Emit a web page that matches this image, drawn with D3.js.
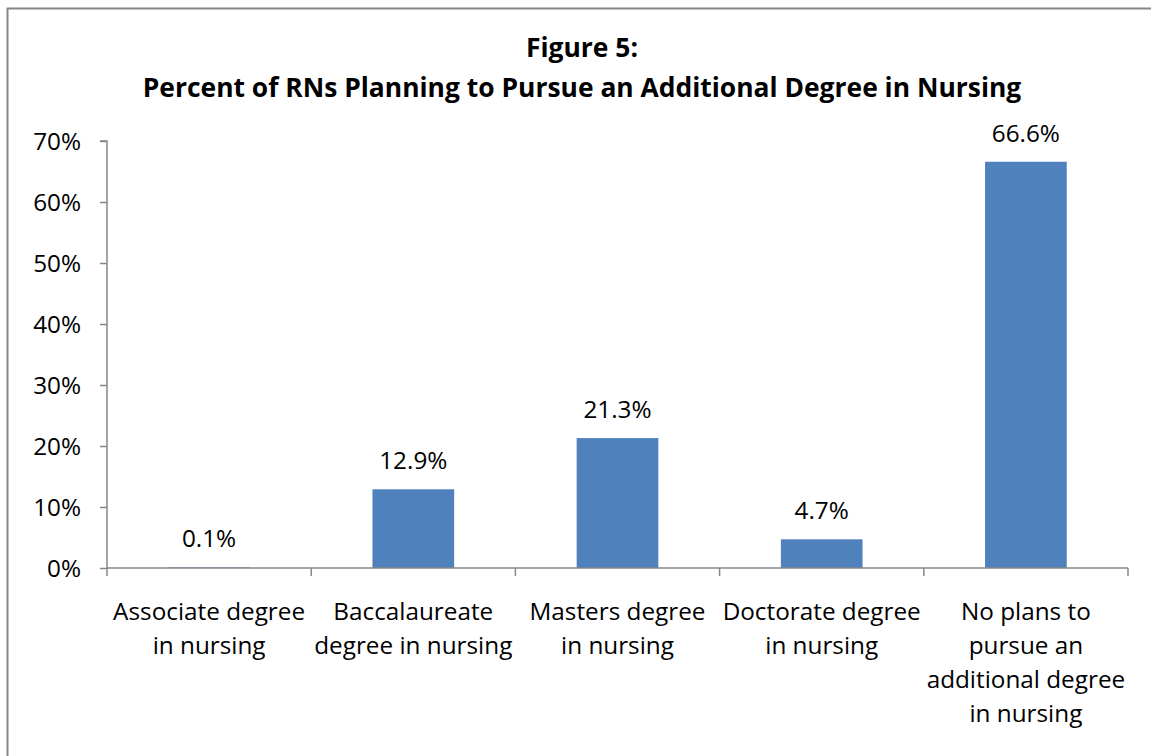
<!DOCTYPE html>
<html>
<head>
<meta charset="utf-8">
<script src="https://cdn.jsdelivr.net/npm/d3@7/dist/d3.min.js"></script>
<style>
  html, body { margin: 0; padding: 0; background: #fff; }
  svg { display: block; }
  text { font-family: "Open Sans", Lato, sans-serif; fill: #000; }
</style>
</head>
<body>
<svg id="chart" width="1151" height="756"></svg>
<script>
const titleLines = ["Figure 5:", "Percent of RNs Planning to Pursue an Additional Degree in Nursing"];
const categories = [
  "Associate degree in nursing",
  "Baccalaureate degree in nursing",
  "Masters degree in nursing",
  "Doctorate degree in nursing",
  "No plans to pursue an additional degree in nursing"
];
const categoryLines = [
  ["Associate degree", "in nursing"],
  ["Baccalaureate", "degree in nursing"],
  ["Masters degree", "in nursing"],
  ["Doctorate degree", "in nursing"],
  ["No plans to", "pursue an", "additional degree", "in nursing"]
];
const values = [0.1, 12.9, 21.3, 4.7, 66.6];
const yTicks = [0, 10, 20, 30, 40, 50, 60, 70];

const svg = d3.select("#chart");
const W = 1151, H = 756;

// outer frame (extends past right/bottom edges)
svg.append("rect").attr("x", 7.5).attr("y", 8.5).attr("width", W + 10).attr("height", H + 10)
  .attr("fill", "#fff").attr("stroke", "#878787").attr("stroke-width", 2);

const plot = { left: 107, right: 1128, top: 141, bottom: 568 };

const x = d3.scaleBand().domain(categories).range([plot.left, plot.right]).paddingInner(0.6).paddingOuter(0.3);
const xOuter = d3.scaleBand().domain(categories).range([plot.left, plot.right]);
const y = d3.scaleLinear().domain([0, 70]).range([plot.bottom, plot.top]);

// helper: measure and fit font size
function fitSize(str, weight, targetWidth) {
  const t = svg.append("text").attr("font-size", 100).attr("font-weight", weight).text(str);
  const w = t.node().getComputedTextLength();
  t.remove();
  return 100 * targetWidth / w;
}
const labelSize = fitSize("Associate degree", "normal", 192);
const titleSize = fitSize(titleLines[1], "bold", 879);

// title
const cx = 582;
svg.append("text").attr("x", cx).attr("y", 57).attr("text-anchor", "middle")
  .attr("font-weight", "bold").attr("font-size", titleSize).text(titleLines[0]);
svg.append("text").attr("x", cx).attr("y", 97).attr("text-anchor", "middle")
  .attr("font-weight", "bold").attr("font-size", titleSize).text(titleLines[1]);

// bars
svg.append("g").selectAll("rect").data(values).join("rect")
  .attr("x", (d, i) => x(categories[i]))
  .attr("width", x.bandwidth())
  .attr("y", d => y(d))
  .attr("height", d => y(0) - y(d))
  .attr("fill", "#4F81BD");

// data labels
svg.append("g").selectAll("text").data(values).join("text")
  .attr("x", (d, i) => x(categories[i]) + x.bandwidth() / 2)
  .attr("y", d => y(d) - 20)
  .attr("text-anchor", "middle")
  .attr("font-size", labelSize)
  .text(d => d.toFixed(1) + "%");

// y axis
const yAxis = svg.append("g").attr("transform", `translate(${plot.left},0)`)
  .call(d3.axisLeft(y).tickValues(yTicks).tickSize(7).tickPadding(19).tickFormat(d => d + "%"));
yAxis.select(".domain").attr("stroke", "#878787").attr("stroke-width", 1.5)
  .attr("d", `M-7,${plot.top}H0V${plot.bottom}`);
yAxis.selectAll(".tick line").attr("stroke", "#878787").attr("stroke-width", 1.5);
yAxis.selectAll(".tick text").attr("font-size", labelSize).attr("dy", "0.35em")
  .style("font-family", "'Open Sans', Lato, sans-serif").attr("fill", "#000");

// x axis line and ticks between categories
const xg = svg.append("g");
xg.append("line").attr("x1", plot.left).attr("x2", plot.right)
  .attr("y1", plot.bottom).attr("y2", plot.bottom)
  .attr("stroke", "#878787").attr("stroke-width", 1.5);
const boundaries = categories.map(c => xOuter(c)).concat([plot.right]);
xg.selectAll("line.tick").data(boundaries).join("line").attr("class", "tick")
  .attr("x1", d => d).attr("x2", d => d)
  .attr("y1", plot.bottom).attr("y2", plot.bottom + 8)
  .attr("stroke", "#878787").attr("stroke-width", 1.5);

// category labels
categoryLines.forEach((lines, i) => {
  const cxi = xOuter(categories[i]) + xOuter.bandwidth() / 2;
  lines.forEach((ln, j) => {
    svg.append("text").attr("x", cxi).attr("y", 620 + j * 34)
      .attr("text-anchor", "middle").attr("font-size", labelSize).text(ln);
  });
});
</script>
</body>
</html>
